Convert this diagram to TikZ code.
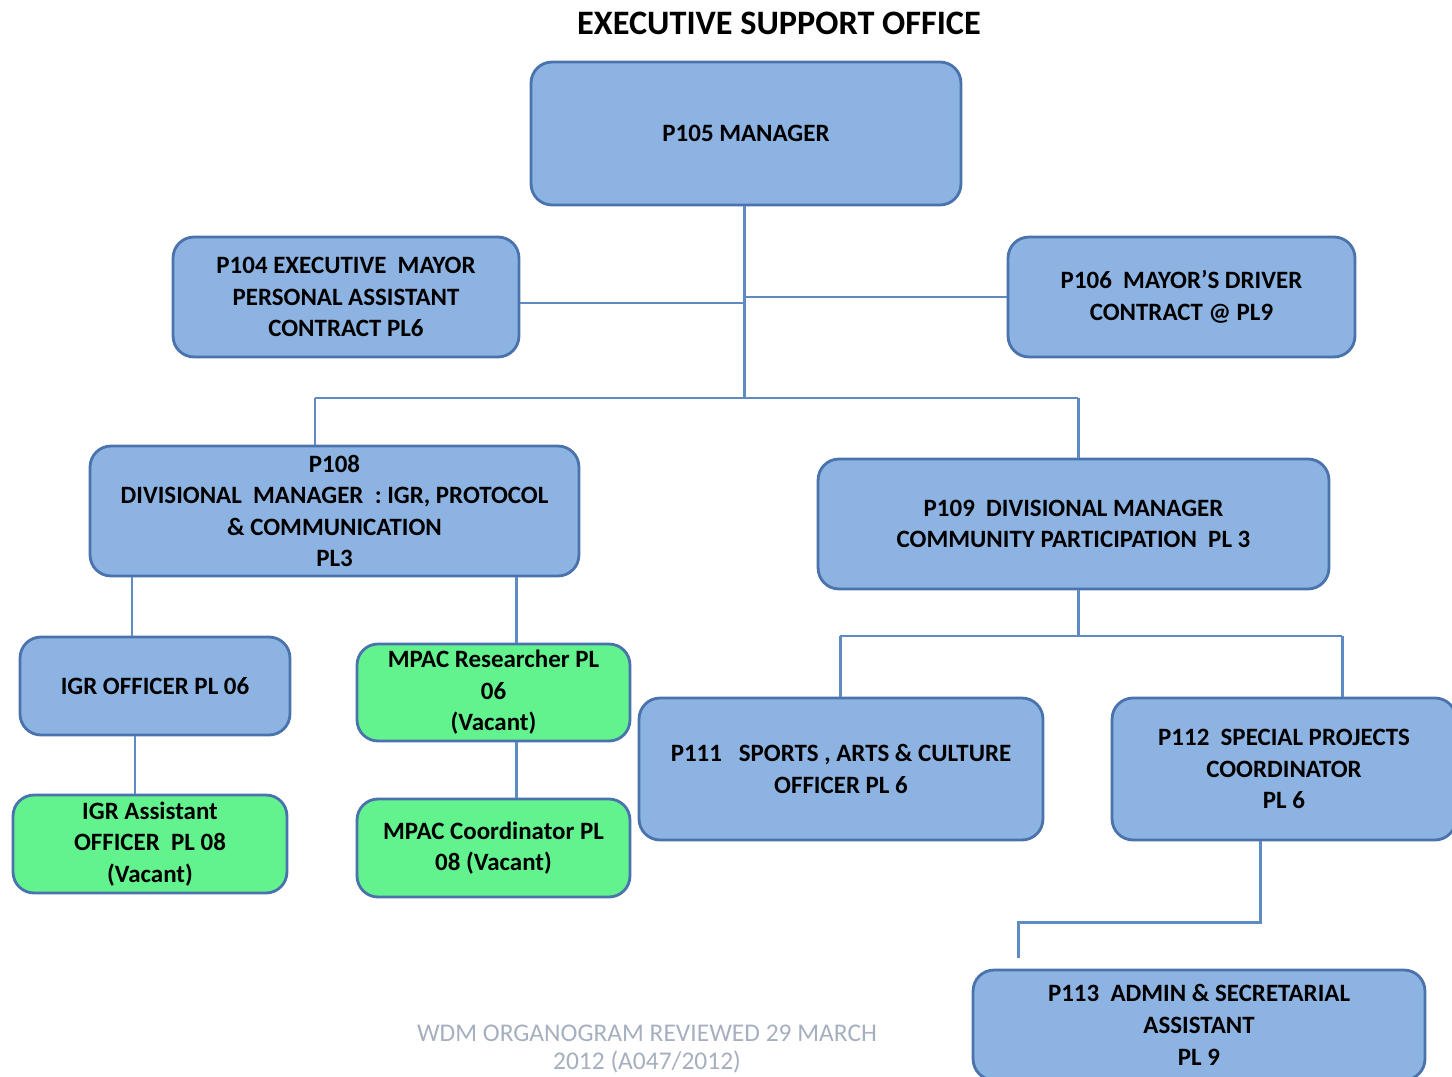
\documentclass[tikz,border=0pt]{standalone}
\usepackage{fontspec}
\setmainfont{Carlito}
\usetikzlibrary{calc}
\definecolor{boxblue}{HTML}{8DB3E2}
\definecolor{boxgreen}{HTML}{62F38E}
\definecolor{edge}{HTML}{4A72AC}
\definecolor{wire}{HTML}{5F8AC2}
\definecolor{foot}{HTML}{A6AFBF}
\tikzset{
  orgbox/.style={draw=edge, line width=1.6pt, rounded corners=0.42cm, fill=boxblue,
    align=center, inner sep=0pt, font=\bfseries\fontsize{14.2}{18}\selectfont},
  vacant/.style={orgbox, fill=boxgreen},
  wireline/.style={draw=wire, line width=1.7pt},
}
\begin{document}
\begin{tikzpicture}[x=0.02cm, y=-0.02cm]
\useasboundingbox (0,0) rectangle (1452,1077);
\clip (0,0) rectangle (1452,1077);

\node[font=\bfseries\fontsize{19.5}{22}\selectfont] (title) at (779,23) {EXECUTIVE SUPPORT OFFICE};

\node[orgbox, minimum width=8.6cm, minimum height=2.86cm] (p105) at (746,133.5) {P105 MANAGER};
\node[orgbox, minimum width=6.92cm, minimum height=2.4cm] (p104) at (346,297) {P104 EXECUTIVE\ \ MAYOR\\PERSONAL ASSISTANT\\CONTRACT PL6};
\node[orgbox, minimum width=6.94cm, minimum height=2.4cm] (p106) at (1181.5,297) {P106\ \ MAYOR'S DRIVER\\CONTRACT @ PL9};
\node[orgbox, minimum width=9.78cm, minimum height=2.6cm] (p108) at (334.5,511) {P108\\DIVISIONAL\ \ MANAGER\ \ : IGR, PROTOCOL\\\& COMMUNICATION\\PL3};
\node[orgbox, minimum width=10.22cm, minimum height=2.6cm] (p109) at (1073.5,524) {P109\ \ DIVISIONAL MANAGER\\COMMUNITY PARTICIPATION\ \ PL 3};
\node[orgbox, minimum width=5.4cm, minimum height=1.96cm] (igro) at (155,686) {IGR OFFICER PL 06};
\node[vacant, minimum width=5.46cm, minimum height=1.94cm] (mpacr) at (493.5,692.5) {MPAC Researcher PL\\06\\(Vacant)};
\node[vacant, minimum width=5.48cm, minimum height=1.96cm] (igra) at (150,844) {IGR Assistant\\OFFICER\ \ PL 08\\(Vacant)};
\node[vacant, minimum width=5.46cm, minimum height=1.96cm] (mpacc) at (493.5,848) {MPAC Coordinator PL\\08 (Vacant)};
\node[orgbox, minimum width=8.08cm, minimum height=2.84cm] (p111) at (841,769) {P111\ \ \ SPORTS , ARTS \& CULTURE\\OFFICER PL 6};
\node[orgbox, minimum width=6.88cm, minimum height=2.84cm] (p112) at (1284,769) {P112\ \ SPECIAL PROJECTS\\COORDINATOR\\PL 6};
\node[orgbox, minimum width=9.04cm, minimum height=2.2cm] (p113) at (1199,1025) {P113\ \ ADMIN \& SECRETARIAL\\ASSISTANT\\PL 9};

\node[font=\fontsize{14.5}{15.5}\selectfont, text=foot, align=center] (foot) at (647,1049) {WDM ORGANOGRAM REVIEWED 29 MARCH\\2012 (A047/2012)};

% junctions
\coordinate (j0) at (744,398);
\coordinate (jl) at (315,398);
\coordinate (jr) at (1078,398);
\coordinate (k0) at (1078,636);
\coordinate (kl) at (840,636);
\coordinate (kr) at (1342,636);
\coordinate (q1) at (1260,922);
\coordinate (q2) at (1018,922);

\draw[wireline] (p105.south -| j0) -- (j0);
\draw[wireline] (p104.east |- 0,303) -- (744,303);
\draw[wireline] (744,297) -- (p106.west |- 0,297);
\draw[wireline] (jl) -- (jr);
\draw[wireline] (jl) -- (p108.north -| jl);
\draw[wireline] (jr) -- (p109.north -| jr);
\draw[wireline] (p108.south -| 132,0) -- (igro.north -| 132,0);
\draw[wireline] (p108.south -| 516,0) -- (mpacr.north -| 516,0);
\draw[wireline] (igro.south -| 135,0) -- (igra.north -| 135,0);
\draw[wireline] (mpacr.south -| 516,0) -- (mpacc.north -| 516,0);
\draw[wireline] (p109.south -| k0) -- (k0);
\draw[wireline] (kl) -- (kr);
\draw[wireline] (kl) -- (p111.north -| kl);
\draw[wireline] (kr) -- (p112.north -| kr);
\draw[wireline] (p112.south -| q1) -- (q1) -- (q2) -- (1018,958);
\end{tikzpicture}
\end{document}
